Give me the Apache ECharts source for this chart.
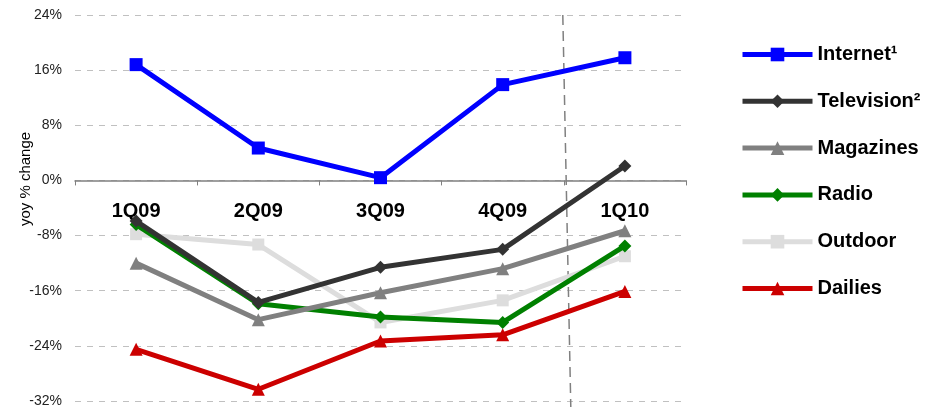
<!DOCTYPE html>
<html>
<head>
<meta charset="utf-8">
<script src="https://cdn.jsdelivr.net/npm/echarts@6/dist/echarts.min.js"></script>
<style>
  html, body { margin: 0; padding: 0; background: #fff; }
  #chart { width: 951px; height: 410px; }
</style>
</head>
<body>
<div id="chart"></div>
<script>
// Quarterly year-over-year change in ad spending by medium
const quarters = ['1Q09', '2Q09', '3Q09', '4Q09', '1Q10'];
const yTicks = { min: -32, max: 24, step: 8 };

const internet   = [16.8, 4.7, 0.4, 13.9, 17.8];
const television = [-5.9, -17.7, -12.6, -10.0, 2.1];
const magazines  = [-12.0, -20.2, -16.3, -12.8, -7.3];
const radio      = [-6.4, -17.9, -19.8, -20.6, -9.5];
const outdoor    = [-7.8, -9.3, -20.6, -17.4, -11.0];
const dailies    = [-24.5, -30.3, -23.3, -22.4, -16.1];

const seriesDefs = [
  { name: 'Internet\u00B9',   data: internet,   color: '#0000FF', symbol: 'rect',     size: 13 },
  { name: 'Television\u00B2', data: television, color: '#333333', symbol: 'diamond',  size: 13 },
  { name: 'Magazines',        data: magazines,  color: '#808080', symbol: 'triangle', size: 13 },
  { name: 'Radio',            data: radio,      color: '#008000', symbol: 'diamond',  size: 13 },
  { name: 'Outdoor',          data: outdoor,    color: '#DDDDDD', symbol: 'rect',     size: 12 },
  { name: 'Dailies',          data: dailies,    color: '#CC0000', symbol: 'triangle', size: 13 }
];

const FONT = 'Arial, "Liberation Sans", sans-serif';
const chart = echarts.init(document.getElementById('chart'));

const option = {
  animation: false,
  grid: { left: 75, right: 265, top: 15, bottom: 9, containLabel: false, outerBoundsMode: 'none' },
  legend: {
    orient: 'vertical',
    left: 735,
    top: 38,
    itemWidth: 70,
    itemHeight: 17,
    itemGap: 23.8,
    lineStyle: { width: 5 },
    textStyle: { fontFamily: FONT, fontSize: 20, fontWeight: 'bold', color: '#000', lineHeight: 23 },
    data: seriesDefs.map(s => s.name)
  },
  xAxis: {
    type: 'category',
    data: quarters,
    boundaryGap: true,
    axisLine: { onZero: false, lineStyle: { color: '#808080', width: 1.5 } },
    axisTick: { show: true, length: 5, lineStyle: { color: '#808080' } },
    axisLabel: { margin: 21, fontFamily: FONT, fontSize: 20, fontWeight: 'bold', color: '#000' },
    splitLine: { show: false }
  },
  yAxis: {
    type: 'value',
    min: yTicks.min,
    max: yTicks.max,
    interval: yTicks.step,
    name: 'yoy % change',
    nameLocation: 'middle',
    nameGap: 42,
    nameRotate: 90,
    nameMoveOverlap: false,
    nameTextStyle: { fontFamily: FONT, fontSize: 15, color: '#000', padding: [0, 0, 0, 58] },
    axisLine: { show: false },
    axisTick: { show: false },
    axisLabel: {
      margin: 13,
      fontFamily: FONT,
      fontSize: 14,
      color: '#222',
      formatter: v => v + '%'
    },
    splitLine: { show: true, lineStyle: { color: '#C0C0C0', type: [6, 6], width: 1 } }
  },
  series: seriesDefs.map((s, i) => ({
    name: s.name,
    type: 'line',
    data: s.data,
    symbol: s.symbol,
    symbolSize: s.size,
    showSymbol: true,
    z: 10 - i,
    lineStyle: { color: s.color, width: 5 },
    itemStyle: { color: s.color, borderWidth: 0 },
    emphasis: { disabled: true }
  }))
};

chart.setOption(option);

// Move the category axis (line, ticks, labels) up to the 0% level
const zeroY = chart.convertToPixel({ yAxisIndex: 0 }, 0);
const botY = chart.convertToPixel({ yAxisIndex: 0 }, yTicks.min);
const topY = chart.convertToPixel({ yAxisIndex: 0 }, yTicks.max);

// Dashed divider between the 2009 quarters and 1Q10
const p4 = chart.convertToPixel({ xAxisIndex: 0 }, quarters[3]);
const p5 = chart.convertToPixel({ xAxisIndex: 0 }, quarters[4]);
const divX = (p4 + p5) / 2;

chart.setOption({
  xAxis: { offset: -(botY - zeroY) },
  graphic: [{
    type: 'line',
    z: 1,
    shape: { x1: divX - 1, y1: topY, x2: divX + 7, y2: botY + 6 },
    style: { stroke: '#808080', lineWidth: 1.5, lineDash: [10, 6] },
    silent: true
  }]
});
</script>
</body>
</html>
